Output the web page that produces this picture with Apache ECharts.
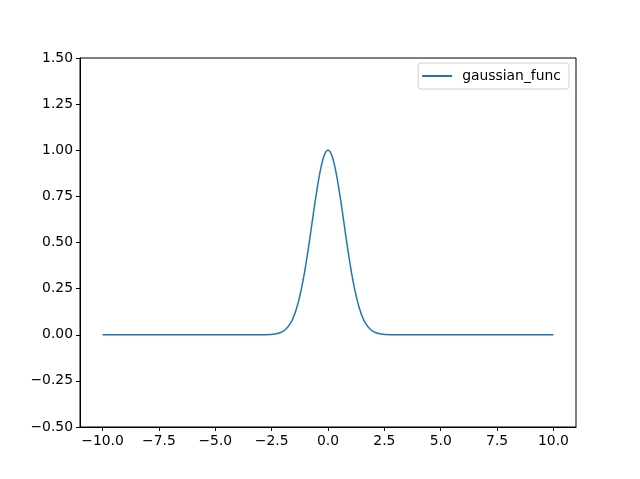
<!DOCTYPE html>
<html><head><meta charset="utf-8">
<script src="https://cdn.jsdelivr.net/npm/echarts@6/dist/echarts.min.js"></script>
<style>html,body{margin:0;padding:0;background:#fff}#c{width:640px;height:479px}</style>
</head><body><div id="c"></div>
<script>
const xValues = [-10, -5, -3, -2.8, -2.6, -2.5, -2.4, -2.3, -2.2, -2.1, -2.0, -1.9, -1.8, -1.7, -1.6, -1.5, -1.4, -1.3, -1.2, -1.1, -1.0, -0.9, -0.8, -0.7, -0.6, -0.5, -0.4, -0.3, -0.2, -0.1, 0,
  0.1, 0.2, 0.3, 0.4, 0.5, 0.6, 0.7, 0.8, 0.9, 1.0, 1.1, 1.2, 1.3, 1.4, 1.5, 1.6, 1.7, 1.8, 1.9, 2.0, 2.1, 2.2, 2.3, 2.4, 2.5, 2.6, 2.8, 3, 5, 10];
const yValues = [0, 0, 0, 0.000, 0.001, 0.002, 0.003, 0.005, 0.008, 0.012, 0.018, 0.027, 0.039, 0.056, 0.077, 0.105, 0.141, 0.185, 0.237, 0.298, 0.368, 0.445, 0.527, 0.613, 0.698, 0.779, 0.852, 0.914, 0.961, 0.990, 1.000,
  0.990, 0.961, 0.914, 0.852, 0.779, 0.698, 0.613, 0.527, 0.445, 0.368, 0.298, 0.237, 0.185, 0.141, 0.105, 0.077, 0.056, 0.039, 0.027, 0.018, 0.012, 0.008, 0.005, 0.003, 0.002, 0.001, 0.000, 0, 0, 0];
const xTicks = [-10, -7.5, -5, -2.5, 0, 2.5, 5, 7.5, 10];
const seriesName = 'gaussian_func';

const font = 'DejaVu Sans';
const fmt = (v, d) => v.toFixed(d).replace('-', '\u2212');
const chart = echarts.init(document.getElementById('c'), null, {renderer: 'canvas'});
chart.setOption({
  animation: false,
  grid: {left: 80, right: 64, top: 58, bottom: 52, show: true, borderColor: '#000', borderWidth: 1, containLabel: false},
  legend: {
    data: [{name: seriesName, icon: 'rect'}],
    right: 71, top: 63, orient: 'vertical',
    itemWidth: 30, itemHeight: 2, itemGap: 10,
    padding: [6, 8, 6, 4],
    borderColor: '#d0d0d0', borderWidth: 1, borderRadius: 3,
    textStyle: {fontFamily: font, fontSize: 13.9, color: '#000', padding: [0, 0, 0, 5]}
  },
  xAxis: {
    type: 'value', min: -11, max: 11,
    splitLine: {show: false},
    axisLine: {show: true, onZero: false, lineStyle: {color: '#000', width: 1}},
    axisTick: {show: true, customValues: xTicks, length: 4, lineStyle: {color: '#000'}},
    axisLabel: {customValues: xTicks, formatter: v => fmt(v, 1), fontFamily: font, fontSize: 13.9, color: '#000', margin: 7}
  },
  yAxis: {
    type: 'value', min: -0.5, max: 1.5, interval: 0.25,
    splitLine: {show: false},
    axisLine: {show: true, onZero: false, lineStyle: {color: '#000', width: 1}},
    axisTick: {show: true, length: 4, lineStyle: {color: '#000'}},
    axisLabel: {formatter: v => fmt(v, 2), fontFamily: font, fontSize: 13.9, color: '#000', margin: 7}
  },
  series: [{
    name: seriesName, type: 'line', showSymbol: false, smooth: 0.2,
    data: xValues.map((x, i) => [x, yValues[i]]),
    lineStyle: {color: '#1f77b4', width: 1.5},
    itemStyle: {color: '#1f77b4'}
  }]
});
</script></body></html>
